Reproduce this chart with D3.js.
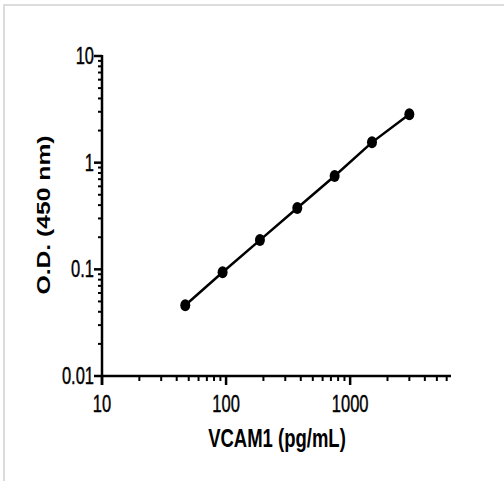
<!DOCTYPE html>
<html>
<head>
<meta charset="utf-8">
<script src="https://cdn.jsdelivr.net/npm/d3@7"></script>
<style>
  body { margin: 0; background: #fff; }
  text { font-family: "Liberation Sans", Arial, sans-serif; fill: #000; }
</style>
</head>
<body>
<div id="chart"></div>
<script>
// standard curve values
const conc = [46.9, 93.75, 187.5, 375, 750, 1500, 3000];
const od = [0.046, 0.094, 0.188, 0.376, 0.75, 1.55, 2.85];
const xTickLabels = [10, 100, 1000];
const yTickLabels = [0.01, 0.1, 1, 10];

const width = 504, height = 481;
const stretch = 1.4; // the picture is stretched vertically

const svg = d3.select("#chart").append("svg")
  .attr("width", width)
  .attr("height", height);

// thin grey frame (left + top only visible)
svg.append("path")
  .attr("d", "M4,481 L4,5 L504,5")
  .attr("fill", "none")
  .attr("stroke", "#dcdcdc")
  .attr("stroke-width", 2);

const x = d3.scaleLog().domain([10, 6500]).range([102, 451]);
const y = d3.scaleLog().domain([0.01, 10]).range([376, 56]);

// minor tick values
const xMinor = [], yMinor = [];
[10, 100, 1000].forEach(b => { for (let i = 2; i <= 9; i++) if (b * i <= 6500) xMinor.push(b * i); });
[0.01, 0.1, 1].forEach(b => { for (let i = 2; i <= 9; i++) yMinor.push(b * i); });

const g = svg.append("g");

// x axis
g.append("line")
  .attr("x1", x(10)).attr("x2", x(6500))
  .attr("y1", y(0.01)).attr("y2", y(0.01))
  .attr("stroke", "#000").attr("stroke-width", 2.5);
g.selectAll(".xminor").data(xMinor).join("line")
  .attr("x1", d => x(d)).attr("x2", d => x(d))
  .attr("y1", y(0.01)).attr("y2", y(0.01) + 5)
  .attr("stroke", "#000").attr("stroke-width", 2);
g.selectAll(".xmajor").data(xTickLabels).join("line")
  .attr("x1", d => x(d)).attr("x2", d => x(d))
  .attr("y1", y(0.01)).attr("y2", y(0.01) + 9)
  .attr("stroke", "#000").attr("stroke-width", 2.5);
g.selectAll(".xlab").data(xTickLabels).join("text")
  .attr("text-anchor", "middle")
  .attr("font-size", "16.5px")
  .attr("stroke", "#000").attr("stroke-width", 0.3)
  .attr("transform", d => `translate(${x(d)},412) scale(1,${stretch})`)
  .text(d => d);

// y axis
g.append("line")
  .attr("x1", x(10)).attr("x2", x(10))
  .attr("y1", y(10) - 1).attr("y2", y(0.01) + 9)
  .attr("stroke", "#000").attr("stroke-width", 2.5);
g.selectAll(".yminor").data(yMinor).join("line")
  .attr("x1", x(10) - 4).attr("x2", x(10))
  .attr("y1", d => y(d)).attr("y2", d => y(d))
  .attr("stroke", "#000").attr("stroke-width", 2);
g.selectAll(".ymajor").data(yTickLabels).join("line")
  .attr("x1", x(10) - 8).attr("x2", x(10))
  .attr("y1", d => y(d)).attr("y2", d => y(d))
  .attr("stroke", "#000").attr("stroke-width", 2.5);
g.selectAll(".ylab").data(yTickLabels).join("text")
  .attr("text-anchor", "end")
  .attr("font-size", "16.5px")
  .attr("stroke", "#000").attr("stroke-width", 0.3)
  .attr("transform", d => `translate(94,${y(d) + 8}) scale(1,${stretch})`)
  .text(d => d);

// axis titles
svg.append("text")
  .attr("text-anchor", "middle")
  .attr("font-size", "18.5px")
  .attr("font-weight", "bold")
  .attr("transform", `translate(277,447) scale(1,${stretch})`)
  .text("VCAM1 (pg/mL)");

svg.append("text")
  .attr("text-anchor", "middle")
  .attr("font-size", "19px")
  .attr("font-weight", "bold")
  .attr("transform", `translate(50,215) rotate(-90) scale(1.3,1)`)
  .text("O.D. (450 nm)");

// curve
const pts = conc.map((c, i) => [c, od[i]]);
svg.append("path")
  .datum(pts)
  .attr("fill", "none")
  .attr("stroke", "#000")
  .attr("stroke-width", 2.5)
  .attr("d", d3.line().x(d => x(d[0])).y(d => y(d[1])));

svg.selectAll(".pt").data(pts).join("ellipse")
  .attr("cx", d => x(d[0]))
  .attr("cy", d => y(d[1]))
  .attr("rx", 5)
  .attr("ry", 6)
  .attr("fill", "#000");
</script>
</body>
</html>
